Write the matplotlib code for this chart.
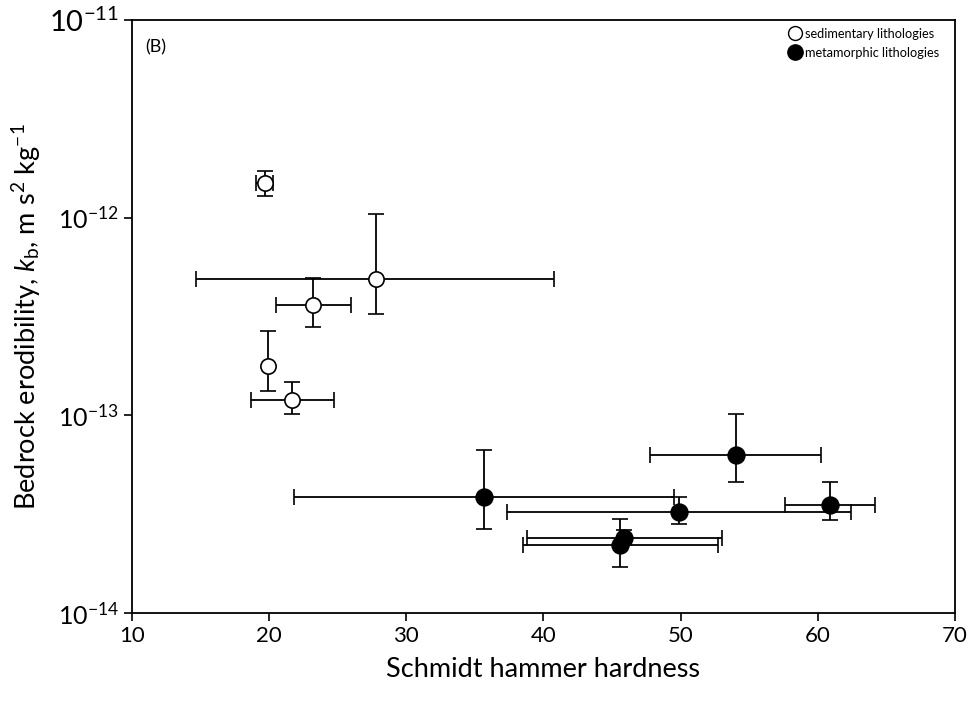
import numpy as np
import matplotlib
matplotlib.use('Agg')
import matplotlib.pyplot as plt
from matplotlib.lines import Line2D
from matplotlib.ticker import FixedLocator, NullLocator

plt.rcParams['font.family'] = ['Lato', 'DejaVu Sans']
plt.rcParams['mathtext.fontset'] = 'custom'
plt.rcParams['mathtext.rm'] = 'Lato'
plt.rcParams['mathtext.it'] = 'Lato:italic'

# sedimentary lithologies
sed_x = [19.7, 27.8, 23.2, 19.9, 21.7]
sed_y = [1.49e-12, 4.9e-13, 3.6e-13, 1.78e-13, 1.2e-13]
sed_xlo = [19.05, 14.7, 20.5, np.nan, 18.7]
sed_xhi = [20.25, 40.8, 26.0, np.nan, 24.7]
sed_ylo = [1.29e-12, 3.24e-13, 2.81e-13, 1.33e-13, 1.02e-13]
sed_yhi = [1.73e-12, 1.045e-12, 4.98e-13, 2.68e-13, 1.47e-13]

# metamorphic lithologies
met_x = [35.7, 49.9, 45.9, 45.6, 54.0, 60.9]
met_y = [3.85e-14, 3.26e-14, 2.39e-14, 2.2e-14, 6.3e-14, 3.52e-14]
met_xlo = [21.8, 37.35, 38.8, 38.5, 47.8, 57.6]
met_xhi = [49.5, 62.4, 53.0, 52.7, 60.2, 64.2]
met_ylo = [2.67e-14, 2.82e-14, 2.2e-14, 1.7e-14, 4.62e-14, 2.96e-14]
met_yhi = [6.68e-14, 3.88e-14, 2.63e-14, 3.0e-14, 1.02e-13, 4.62e-14]

fig = plt.figure(figsize=(9.76, 7.05), dpi=100)
ax = fig.add_axes([0.1352, 0.1305, 0.8433, 0.8411])


def draw(xs, ys, xlo, xhi, ylo, yhi, face):
    for x, y, a, b, c, d in zip(xs, ys, xlo, xhi, ylo, yhi):
        xerr = None if np.isnan(a) else [[x - a], [b - x]]
        ax.errorbar([x], [y], xerr=xerr, yerr=[[y - c], [d - y]],
                    fmt='o', color='black', mfc=face, mec='black', mew=1.2,
                    ms=11 if face == 'white' else 12, elinewidth=1.3,
                    capsize=6, capthick=1.3, zorder=3)


draw(sed_x, sed_y, sed_xlo, sed_xhi, sed_ylo, sed_yhi, 'white')
draw(met_x, met_y, met_xlo, met_xhi, met_ylo, met_yhi, 'black')

ax.set_yscale('log')
ax.set_xlim(10, 70)
ax.set_ylim(1e-14, 1e-11)
ax.xaxis.set_major_locator(FixedLocator(range(10, 71, 10)))
ax.yaxis.set_major_locator(FixedLocator([1e-14, 1e-13, 1e-12, 1e-11]))
ax.yaxis.set_minor_locator(NullLocator())
ax.set_yticklabels(['$10^{-14}$', '$10^{-13}$', '$10^{-12}$', '$10^{-11}$'])
ax.tick_params(direction='out', length=6, width=1.2, top=False, right=False)
ax.tick_params(axis='x', labelsize=16)
ax.tick_params(axis='y', labelsize=18)
ax.get_yticklabels()[-1].set_fontsize(21)
for s in ax.spines.values():
    s.set_linewidth(1.3)

ax.set_xlabel('Schmidt hammer hardness', fontsize=19.5, labelpad=8)
ax.set_ylabel(r'Bedrock erodibility, $k_{\mathrm{b}}$, m s$^{2}$ kg$^{-1}$',
              fontsize=19.5, labelpad=4)
ax.text(0.016, 0.968, '(B)', transform=ax.transAxes, fontsize=13, va='top')

handles = [Line2D([], [], ls='none', marker='o', mfc='white', mec='black', ms=10),
           Line2D([], [], ls='none', marker='o', mfc='black', mec='black', ms=11)]
ax.legend(handles, ['sedimentary lithologies', 'metamorphic lithologies'],
          loc='upper right', frameon=False, fontsize=9.2, handletextpad=0.3,
          labelspacing=0.55, borderaxespad=0.2, handlelength=1.0,
          bbox_to_anchor=(0.99, 1.0))

plt.savefig('out.png', dpi=100)
